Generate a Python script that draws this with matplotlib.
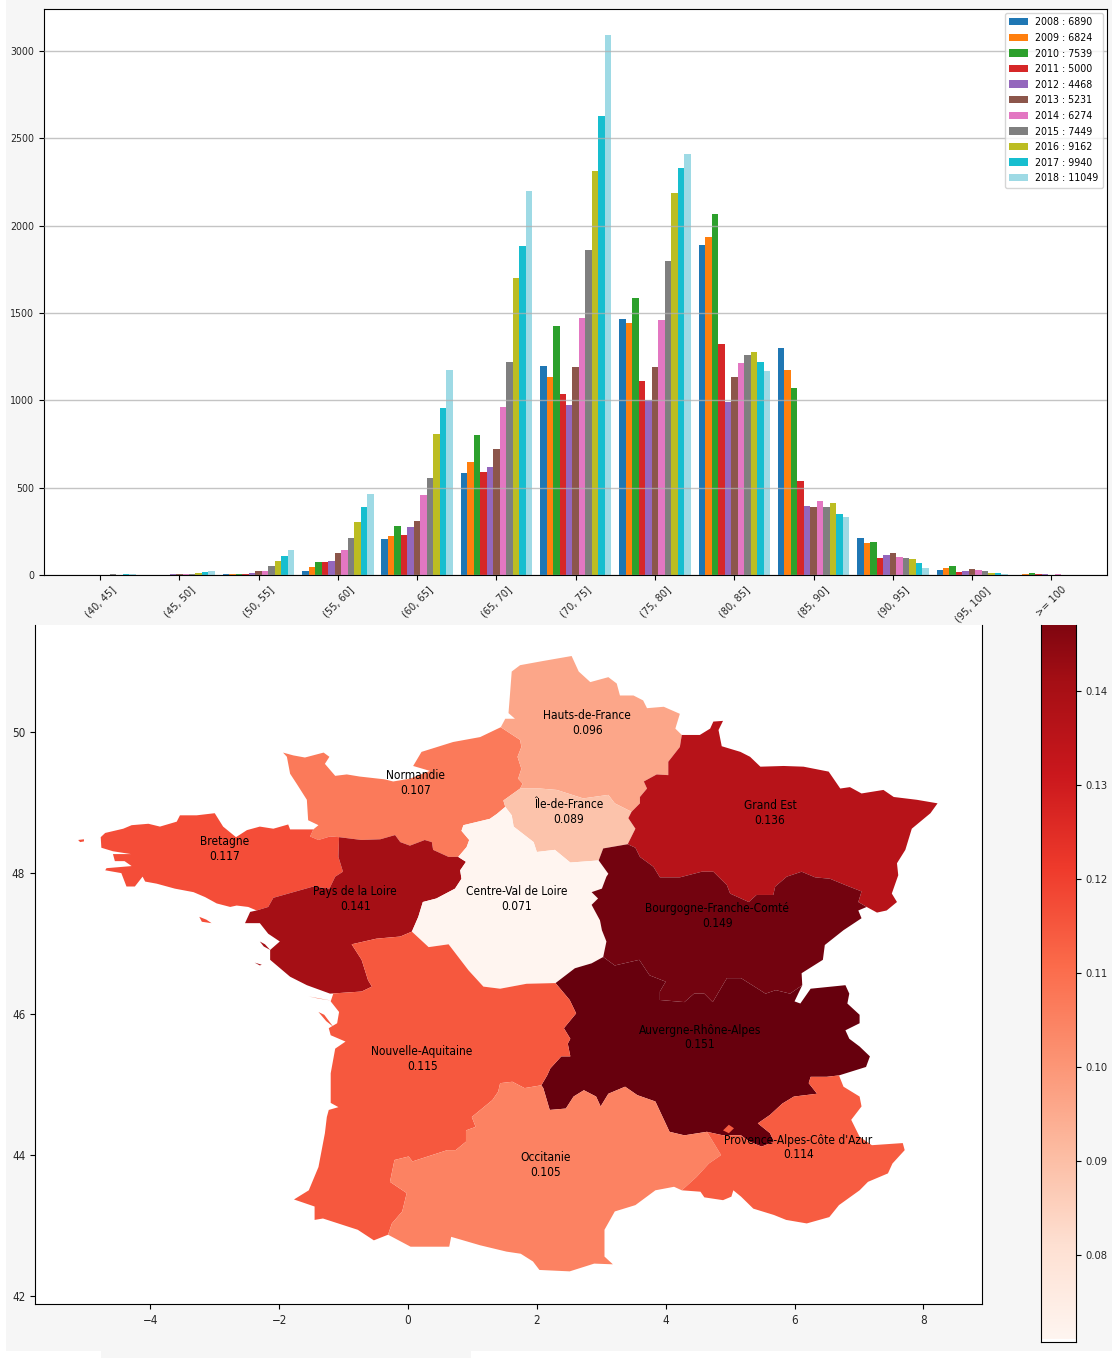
import numpy as np
import matplotlib
matplotlib.use("Agg")
import matplotlib.pyplot as plt
from matplotlib.patches import Rectangle
from matplotlib.colors import Normalize

plt.rcParams["font.stretch"] = "condensed"

# ---------- bar chart data ----------
bins = ["(40, 45]", "(45, 50]", "(50, 55]", "(55, 60]", "(60, 65]", "(65, 70]", "(70, 75]",
        "(75, 80]", "(80, 85]", "(85, 90]", "(90, 95]", "(95, 100]", ">= 100"]
years = [2008, 2009, 2010, 2011, 2012, 2013, 2014, 2015, 2016, 2017, 2018]
totals = [6890, 6824, 7539, 5000, 4468, 5231, 6274, 7449, 9162, 9940, 11049]
y2008 = [0, 0, 5, 25, 205, 585, 1198, 1467, 1889, 1298, 210, 31, 1]
y2009 = [0, 0, 5, 48, 223, 644, 1131, 1442, 1936, 1172, 181, 42, 6]
y2010 = [0, 0, 5, 73, 280, 804, 1425, 1586, 2066, 1072, 187, 50, 13]
y2011 = [0, 1, 5, 73, 227, 590, 1036, 1109, 1322, 538, 97, 19, 6]
y2012 = [0, 4, 11, 80, 275, 621, 971, 1000, 990, 395, 114, 25, 5]
y2013 = [1, 4, 25, 126, 311, 722, 1192, 1192, 1134, 387, 126, 36, 1]
y2014 = [0, 3, 25, 143, 460, 960, 1472, 1461, 1211, 424, 103, 31, 6]
y2015 = [5, 4, 50, 210, 555, 1221, 1860, 1799, 1259, 387, 97, 25, 1]
y2016 = [1, 10, 80, 305, 805, 1698, 2312, 2186, 1276, 412, 90, 11, 0]
y2017 = [5, 17, 109, 387, 955, 1881, 2625, 2331, 1222, 347, 67, 11, 0]
y2018 = [4, 23, 143, 465, 1172, 2199, 3090, 2408, 1170, 330, 42, 6, 0]
series = [y2008, y2009, y2010, y2011, y2012, y2013, y2014, y2015, y2016, y2017, y2018]
bar_colors = ["#1f77b4", "#ff7f0e", "#2ca02c", "#d62728", "#9467bd", "#8c564b",
              "#e377c2", "#7f7f7f", "#bcbd22", "#17becf", "#9edae5"]

# ---------- map data: shared region borders as (lon, lat) ----------
BRET_PAYS = [(-1.07,48.51),(-1.08,48.23),(-1.01,48.02),(-1.13,47.95),(-1.22,47.78),(-1.47,47.81),
             (-1.78,47.73),(-2.09,47.65),(-2.17,47.52),(-2.35,47.47)]
BRET_COAST = [(-2.48,47.52),(-2.66,47.54),(-2.76,47.52),(-2.97,47.57),(-3.15,47.66),(-3.33,47.73),
              (-3.62,47.78),(-3.90,47.85),(-4.08,47.88),(-4.12,47.95),(-4.24,47.81),(-4.37,47.81),
              (-4.45,48.00),(-4.70,48.04),(-4.68,48.07),(-4.29,48.10),(-4.40,48.17),(-4.55,48.17),(-4.58,48.27),
              (-4.30,48.27),(-4.58,48.31),(-4.76,48.36),(-4.77,48.51),(-4.70,48.57),(-4.42,48.63),(-4.29,48.68),
              (-4.03,48.70),(-3.85,48.66),(-3.59,48.73),(-3.54,48.82),(-3.28,48.82),(-3.00,48.85),
              (-2.87,48.66),(-2.67,48.51),(-2.50,48.61),(-2.30,48.66),(-2.09,48.63),(-1.86,48.69),
              (-1.83,48.62)]
BRET_NORM = [(-1.47,48.62),(-1.52,48.52),(-1.39,48.47),(-1.21,48.52),(-1.07,48.51)]
NORM_PAYS = [(-1.07,48.51),(-0.72,48.47),(-0.43,48.48),(-0.20,48.54),(-0.12,48.44),(0.03,48.39),
             (0.26,48.47),(0.37,48.44),(0.39,48.33),(0.63,48.23),(0.78,48.23)]
PAYS_CENTRE = [(0.78,48.23),(0.90,48.16),(0.81,48.04),(0.83,47.92),(0.73,47.78),(0.44,47.64),
               (0.23,47.59),(0.16,47.38),(0.06,47.17)]
PAYS_NA = [(0.06,47.17),(-0.12,47.10),(-0.49,47.07),(-0.875,46.99),(-0.72,46.77),(-0.62,46.48),
           (-0.56,46.39),(-0.72,46.32),(-1.21,46.29)]
PAYS_COAST = [(-1.21,46.29),(-1.57,46.41),(-1.83,46.53),(-2.14,46.77),(-2.14,46.91),(-1.99,47.03),
              (-2.17,47.14),(-2.30,47.29),(-2.53,47.29),(-2.45,47.45)]
NORM_COAST = [(-1.47,48.62),(-1.39,48.68),(-1.55,48.75),(-1.57,49.04),(-1.73,49.27),(-1.83,49.41),
              (-1.88,49.65),(-1.94,49.71),(-1.78,49.67),(-1.60,49.64),(-1.31,49.71),(-1.22,49.65),
              (-1.29,49.55),(-1.13,49.38),(-0.95,49.40),(-0.75,49.37),(-0.36,49.33),(-0.23,49.30),
              (0.03,49.34),(0.34,49.45),(0.08,49.52),(0.21,49.72),(0.70,49.86),(1.12,49.93),(1.44,50.07)]
NORM_HAUTS = [(1.44,50.07),(1.74,49.89),(1.76,49.79),(1.70,49.65),(1.76,49.48),(1.71,49.34),
              (1.78,49.27),(1.74,49.20)]
NORM_IDF = [(1.74,49.20),(1.48,49.03),(1.51,48.94)]
NORM_CENTRE = [(1.51,48.94),(1.38,48.84),(1.27,48.77),(0.86,48.68),(0.83,48.60),(0.95,48.47),
               (0.91,48.37),(0.78,48.23)]
HAUTS_COAST = [(1.44,50.07),(1.51,50.19),(1.66,50.19),(1.56,50.27),(1.58,50.50),(1.61,50.86),
               (1.74,50.95),(2.10,51.01),(2.54,51.08),(2.65,50.86),(2.83,50.71),(3.11,50.78),
               (3.24,50.69),(3.29,50.52),(3.50,50.52),(3.65,50.45),(3.71,50.34),(3.97,50.36),
               (4.22,50.26),(4.15,50.05),(4.25,49.96)]
HAUTS_GE = [(4.25,49.96),(4.22,49.79),(4.04,49.58),(4.04,49.39),(3.86,49.40),(3.66,49.30),
            (3.71,49.20),(3.60,49.08),(3.60,48.99),(3.47,48.87)]
HAUTS_IDF = [(3.47,48.87),(3.21,48.99),(3.11,49.11),(2.72,49.06),(2.31,49.18),(2.05,49.20),(1.74,49.20)]
IDF_GE = [(3.47,48.87),(3.42,48.78),(3.53,48.63),(3.41,48.41)]
IDF_BFC = [(3.41,48.41),(3.03,48.35),(2.96,48.18)]
IDF_CENTRE = [(2.96,48.18),(2.52,48.15),(2.28,48.33),(2.00,48.30),(1.95,48.44),(1.64,48.66),
              (1.61,48.82),(1.51,48.94)]
GE_OUTER = [(4.25,49.96),(4.53,49.96),(4.69,50.05),(4.74,50.15),(4.89,50.16),(4.82,50.03),(4.87,49.80),
            (5.16,49.72),(5.31,49.65),(5.47,49.51),(5.83,49.52),(6.14,49.51),(6.53,49.44),(6.71,49.20),
            (6.86,49.22),(7.04,49.13),(7.38,49.18),(7.54,49.08),(7.90,49.04),(8.22,48.99),(8.11,48.85),
            (7.82,48.63),(7.72,48.33),(7.59,48.14),(7.61,47.97),(7.51,47.71),(7.59,47.59),(7.43,47.47),
            (7.28,47.44),(7.12,47.52)]
GE_BFC = [(7.12,47.52),(6.99,47.59),(7.04,47.74),(6.79,47.83),(6.55,47.92),(6.32,47.94),(6.11,48.02),
          (5.88,47.95),(5.70,47.81),(5.67,47.69),(5.41,47.69),(5.29,47.59),(5.00,47.71),(4.95,47.83),
          (4.74,48.02),(4.56,48.02),(4.22,47.94),(3.91,47.94),(3.81,48.09),(3.60,48.23),(3.53,48.36),
          (3.41,48.41)]
BFC_EAST = [(7.12,47.52),(6.99,47.47),(7.04,47.36),(6.76,47.19),(6.47,46.98),(6.44,46.77),(6.11,46.58),
            (6.12,46.41)]
BFC_ARA = [(6.12,46.41),(5.93,46.29),(5.71,46.34),(5.55,46.29),(5.43,46.36),(5.17,46.51),(4.95,46.51),
           (4.73,46.17),(4.60,46.29),(4.44,46.29),(4.29,46.17),(3.91,46.20),(3.91,46.32),(4.00,46.46),
           (3.75,46.55),(3.59,46.77),(3.21,46.69),(3.03,46.81)]
BFC_CENTRE = [(3.03,46.81),(3.08,47.03),(3.01,47.19),(2.98,47.33),(2.85,47.55),(2.95,47.64),(2.85,47.73),
              (3.01,47.78),(3.08,47.95),(3.11,47.99),(2.96,48.18)]
CENTRE_ARA = [(3.03,46.81),(2.85,46.72),(2.59,46.65),(2.29,46.44)]
CENTRE_NA = [(2.29,46.44),(1.84,46.43),(1.43,46.36),(1.17,46.39),(0.94,46.62),(0.63,46.99),(0.32,46.95),
             (0.06,47.17)]
ARA_EAST = [(6.12,46.41),(6.00,46.18),(6.09,46.15),(6.25,46.36),(6.79,46.41),(6.85,46.29),(6.82,46.15),
            (7.01,45.99),(7.01,45.87),(6.79,45.77),(6.85,45.65),(7.01,45.54),(7.17,45.40),(7.11,45.25),
            (6.69,45.13)]
ARA_PACA = [(6.69,45.13),(6.50,45.11),(6.25,45.11),(6.22,45.02),(6.35,44.87),(5.99,44.83),(5.81,44.73),
            (5.62,44.57),(5.43,44.45),(5.62,44.31),(5.68,44.19),(5.49,44.12),(5.30,44.19),(5.17,44.28),
            (4.89,44.28),(4.64,44.33)]
OCC_ARA = [(4.64,44.33),(4.29,44.28),(4.06,44.33),(3.84,44.76),(3.56,44.85),(3.37,44.97),(3.11,44.87),
           (2.99,44.69),(2.92,44.83),(2.73,44.92),(2.57,44.83),(2.45,44.66),(2.20,44.64),(2.10,44.95),
           (2.07,44.99)]
NA_ARA = [(2.07,44.99),(2.16,45.13),(2.21,45.23),(2.38,45.40),(2.52,45.40),(2.48,45.58),(2.52,45.65),
          (2.42,45.80),(2.61,46.01),(2.51,46.20),(2.29,46.44)]
NA_OCC = [(2.07,44.99),(1.81,44.95),(1.62,45.04),(1.43,45.02),(1.40,44.90),(1.31,44.78),(0.99,44.54),
          (1.05,44.40),(0.90,44.35),(0.90,44.19),(0.74,44.07),(0.61,44.07),(0.07,43.91),(0.01,43.98),
          (-0.21,43.93),(-0.28,43.62),(-0.02,43.46),(-0.09,43.20),(-0.25,43.03),(-0.31,42.87)]
NA_COAST = [(-0.31,42.87),(-0.53,42.79),(-0.78,42.94),(-1.32,43.10),(-1.45,43.08),(-1.45,43.27),
            (-1.77,43.37),(-1.54,43.50),(-1.39,43.83),(-1.29,44.31),(-1.26,44.54),(-1.23,44.64),
            (-1.08,44.68),(-1.20,44.74),(-1.20,45.16),(-1.13,45.51),(-0.97,45.61),(-1.20,45.70),
            (-1.23,45.80),(-1.10,45.87),(-1.07,46.03),(-1.20,46.18),(-1.16,46.29),(-1.21,46.29)]
OCC_PACA = [(4.64,44.33),(4.86,44.00),(4.67,43.88),(4.48,43.69),(4.25,43.50)]
OCC_COAST = [(4.25,43.50),(4.13,43.55),(3.84,43.50),(3.53,43.29),(3.21,43.20),(3.05,42.94),(3.05,42.56),
             (3.18,42.45),(2.89,42.46),(2.51,42.35),(2.04,42.37),(1.94,42.49),(1.75,42.60),(1.53,42.63),
             (1.12,42.72),(0.67,42.84),(0.64,42.70),(0.04,42.70),(-0.31,42.87)]
PACA_OUTER = [(6.69,45.13),(6.76,44.97),(7.01,44.83),(7.04,44.69),(6.88,44.50),(7.01,44.26),(7.20,44.14),
              (7.68,44.17),(7.71,44.07),(7.52,43.88),(7.45,43.74),(7.14,43.62),(7.01,43.50),(6.69,43.29),
              (6.54,43.12),(6.19,43.03),(5.87,43.08),(5.68,43.15),(5.36,43.24),(5.17,43.41),(5.05,43.50),
              (5.02,43.41),(4.89,43.36),(4.60,43.40),(4.54,43.48),(4.25,43.50)]
# islands and enclave
OUESSANT = [(-5.12,48.47),(-5.03,48.48),(-5.03,48.45),(-5.09,48.44)]
BELLE_ILE = [(-3.24,47.38),(-3.13,47.34),(-3.05,47.29),(-3.20,47.31)]
NOIRMOUTIER = [(-2.30,47.03),(-2.22,46.99),(-2.14,46.91),(-2.24,46.96)]
YEU = [(-2.38,46.73),(-2.27,46.70),(-2.30,46.69)]
RE = [(-1.54,46.25),(-1.18,46.19),(-1.39,46.22)]
OLERON = [(-1.39,46.03),(-1.30,45.99),(-1.16,45.82),(-1.27,45.90)]
VALREAS = [(4.89,44.35),(4.98,44.43),(5.06,44.38),(4.98,44.31)]

def rv(seg):
    return seg[::-1]

region_names = ["Normandie", "Hauts-de-France", "Île-de-France", "Grand Est", "Bretagne", "Pays de la Loire",
                "Centre-Val de Loire", "Bourgogne-Franche-Comté", "Auvergne-Rhône-Alpes", "Nouvelle-Aquitaine",
                "Occitanie", "Provence-Alpes-Côte d'Azur"]
region_values = [0.107, 0.096, 0.089, 0.136, 0.117, 0.141, 0.071, 0.149, 0.151, 0.115, 0.105, 0.114]
label_lon = [0.12, 2.78, 2.50, 5.62, -2.84, -0.82, 1.69, 4.80, 4.53, 0.22, 2.14, 6.06]
label_lat = [49.28, 50.13, 48.87, 48.85, 48.34, 47.63, 47.63, 47.39, 45.67, 45.36, 43.86, 44.11]
region_shapes = [
    [rv(BRET_NORM) + NORM_COAST + NORM_HAUTS + NORM_IDF + NORM_CENTRE + rv(NORM_PAYS)],
    [rv(NORM_HAUTS) + HAUTS_COAST + HAUTS_GE + HAUTS_IDF],
    [rv(HAUTS_IDF) + IDF_GE + IDF_BFC + IDF_CENTRE + rv(NORM_IDF)],
    [rv(HAUTS_GE) + GE_OUTER + GE_BFC + rv(IDF_GE)],
    [BRET_PAYS + BRET_COAST + BRET_NORM, OUESSANT, BELLE_ILE],
    [rv(BRET_PAYS) + NORM_PAYS + PAYS_CENTRE + PAYS_NA + PAYS_COAST, NOIRMOUTIER, YEU],
    [rv(IDF_CENTRE) + rv(BFC_CENTRE) + CENTRE_ARA + CENTRE_NA + rv(PAYS_CENTRE) + rv(NORM_CENTRE)],
    [rv(IDF_BFC) + rv(GE_BFC) + BFC_EAST + BFC_ARA + BFC_CENTRE],
    [rv(BFC_ARA) + ARA_EAST + ARA_PACA + OCC_ARA + NA_ARA + rv(CENTRE_ARA)],
    [rv(PAYS_NA) + rv(CENTRE_NA) + rv(NA_ARA) + NA_OCC + NA_COAST, RE, OLERON],
    [rv(NA_OCC) + rv(OCC_ARA) + OCC_PACA + OCC_COAST],
    [rv(ARA_PACA) + PACA_OUTER + rv(OCC_PACA), VALREAS],
]

# ---------- figure ----------
W, H = 1112, 1358
BG = "#f6f6f6"
fig = plt.figure(figsize=(W / 100, H / 100), dpi=100, facecolor="white")

def box(l, t, r, b):
    return [l / W, 1 - b / H, (r - l) / W, (b - t) / H]

def band(l, t, r, b):
    x, y, w, h = box(l, t, r, b)
    fig.add_artist(Rectangle((x, y), w, h, transform=fig.transFigure, fc=BG, ec="none", zorder=-5))

band(6, 0, W, 1351)
band(101, 1351, 471, H)

# bars
ax = fig.add_axes(box(44, 9, 1107, 575))
x = np.arange(len(bins))
group = 0.9
w = group / len(years)
for i, (yr, tot, vals, col) in enumerate(zip(years, totals, series, bar_colors)):
    ax.bar(x + (i - 5) * w, vals, w, color=col, lw=0, label=f"{yr} : {tot}")
ax.set_xlim(-0.706, 12.70)
ax.set_ylim(0, 3240)
ax.set_xticks(x)
ax.set_xticklabels(bins, rotation=45, fontsize=7.8, color="#262626")
ax.set_yticks([0, 500, 1000, 1500, 2000, 2500, 3000])
ax.tick_params(axis="y", labelsize=7.6, labelcolor="#262626")
ax.set_axisbelow(False)
ax.grid(axis="y", color="#b0b0b0", alpha=0.75, lw=1.0)
ax.legend(loc="upper right", fontsize=7.6, labelspacing=0.53, borderaxespad=0.4, handletextpad=0.7,
          borderpad=0.4, handlelength=1.8)

# map
cmap = plt.get_cmap("Reds")
norm = Normalize(min(region_values), max(region_values))
mp = fig.add_axes(box(35, 625, 982, 1304))
for shapes, val in zip(region_shapes, region_values):
    for poly in shapes:
        lon, lat = zip(*poly)
        mp.fill(lon, lat, color=cmap(norm(val)), lw=0)
for name, val, lo, la in zip(region_names, region_values, label_lon, label_lat):
    mp.text(lo, la, f"{name}\n{val:.3f}", ha="center", va="center", fontsize=8.6, color="black", linespacing=1.15)
mp.set_xlim(-5.79, 8.91)
mp.set_ylim(41.887, 51.52)
mp.set_xticks([-4, -2, 0, 2, 4, 6, 8])
mp.set_yticks([42, 44, 46, 48, 50])
mp.tick_params(labelsize=8.4, labelcolor="#262626")
mp.spines["top"].set_visible(False)

# colorbar
cb = fig.add_axes(box(1041, 625, 1076, 1342))
grad = np.linspace(min(region_values), max(region_values), 256)[:, None]
cb.imshow(grad, cmap=cmap, norm=norm, aspect="auto", origin="lower",
          extent=[0, 1, min(region_values), max(region_values)])
cb.set_ylim(0.0707, 0.147)
cb.set_xticks([])
cb.yaxis.tick_right()
cb.set_yticks([0.08, 0.09, 0.10, 0.11, 0.12, 0.13, 0.14])
cb.set_yticklabels(["0.08", "0.09", "0.10", "0.11", "0.12", "0.13", "0.14"])
cb.tick_params(labelsize=8, labelcolor="#262626")
cb.spines["top"].set_visible(False)

fig.savefig("out.png", dpi=100, facecolor=fig.get_facecolor())
